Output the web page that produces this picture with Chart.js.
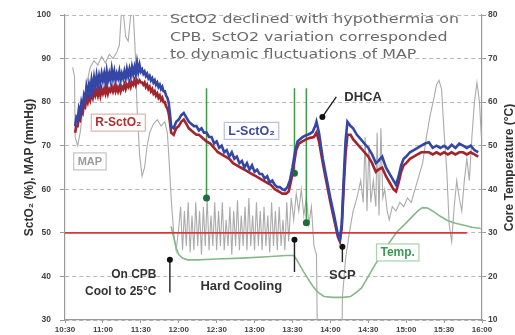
<!DOCTYPE html>
<html>
<head>
<meta charset="utf-8">
<script src="https://cdn.jsdelivr.net/npm/chart.js@4"></script>
<style>
html, body { margin: 0; padding: 0; background: #fff; }
canvas { display: block; }
</style>
</head>
<body>
<canvas id="chart" width="515" height="335"></canvas>
<script>
// time in minutes after 10:30, values in % / mmHg / degC
const timeTicks = ['10:30', '11:00', '11:30', '12:00', '12:30', '13:00', '13:30', '14:00', '14:30', '15:00', '15:30', '16:00'];

const lSctO2 = [
  [8,74.5],[9,76.5],[10,76],[11,78.5],[12,77.5],[13,80],[14,79],[15,81.5],[16,80.5],[17,83.5],[18,82],[19,84],
  [20,82.5],[21,85],[22,83],[23,85.5],[24,83.5],[25,86],[26,84],[27,86],[28,84.5],[29,86.5],[30,85],[31,86.5],
  [32,84.5],[33,87],[34,85],[35,86.5],[36,85],[37,87.5],[38,85.5],[39,87],[40,85],[41,86.5],[42,85.5],[43,87],
  [44,85],[45,86.5],[46,85.5],[47,87],[48,85.5],[49,87.5],[50,86],[51,87.5],[52,86],[53,88],[54,86.5],[55,88],
  [56,86.5],[57,89],[58,87],[59,88.5],[60,87],[61,87.5],[62,86.5],[63,87],[64,86],[65,86.5],[66,85.5],[67,86],
  [68,85],[69,85.5],[70,84.5],[71,85],[72,84],[73,84.5],[74,83.5],[75,84],[76,83],[77,83.5],[78,82.5],[79,82.5],
  [80,81.5],[81,81],[82,80],[83,77.5],[84,74.5],[86,74],[88,75.5],[90,76],[92,77],[94,77.5],[96,76.5],[98,75.5],
  [100,75],[102,74.5],[104,74.5],[106,73.5],[108,74],[110,73],[112,73],[114,72],[116,72],[118,70.5],[120,71],
  [122,69.5],[124,70],[126,68.5],[128,69],[130,67.5],[132,68.5],[134,67],[136,67.5],[138,66],[140,66.5],[142,65],
  [144,66],[146,64.5],[148,65.5],[150,64],[152,64.5],[154,63.5],[156,63.5],[158,62.5],[160,63],[162,61.5],[164,62],
  [166,61],[168,60.5],[170,60.5],[172,60],[174,59.8],[176,60.5],[178,62],[180,65],[182,68.5],[184,71],[186,71.5],
  [188,72],[190,72.3],[192,72.5],[194,72.8],[196,73.2],[198,74.5],[199,75.5],[201,73],[204,67],[207,62.5],[210,58],
  [213,54],[216,49.5],[217.5,48.5],[219,52],[220.5,62],[222,71],[223.5,75.5],[226,74.5],[228,74],[231,72.5],[234,71.5],
  [237,70.5],[240,69.5],[243,68],[246,66],[248,66.5],[251,67.5],[254,65],[257,63.5],[260,62],[262,61],[264,63],
  [266,65.5],[268,67],[270,67.5],[273,68.5],[276,69],[279,69.5],[282,70],[285,70.5],[288,70.8],[291,69.5],[294,70],
  [297,69.5],[300,70],[303,69.3],[306,70.2],[309,69.5],[312,70.5],[315,70],[318,69.5],[321,70],[324,69],[327,68.5]
];

const rSctO2 = [
  [8,73],[9,74.5],[10,74.5],[11,76.5],[12,76],[13,78],[14,77.5],[15,79.5],[16,79],[17,81],[18,80],[19,81.5],
  [20,80.5],[21,82],[22,81],[23,82.5],[24,81.5],[25,82.5],[26,81.5],[27,83],[28,81.5],[29,83],[30,82],[31,83],
  [32,82],[33,83.5],[34,82],[35,83],[36,82.5],[37,83.5],[38,82.5],[39,83.5],[40,82.5],[41,83.5],[42,82.5],[43,83.5],
  [44,82.5],[45,83.5],[46,83],[47,84],[48,83],[49,84],[50,83.5],[51,84.5],[52,83.5],[53,84.5],[54,84],[55,85],
  [56,84],[57,85],[58,84.5],[59,85],[60,84.5],[61,84.5],[62,84],[63,84.5],[64,83.5],[65,84],[66,83],[67,83.5],
  [68,82.5],[69,83],[70,82],[71,82.5],[72,81.5],[73,82],[74,81],[75,81.5],[76,80.5],[77,81],[78,80],[79,80],
  [80,79],[81,78.5],[82,77.5],[83,75.5],[84,73],[86,72.5],[88,74],[90,74.5],[92,75.5],[94,76],[96,75],[98,74],
  [100,73.5],[102,73],[104,72.5],[106,72.5],[108,72],[110,71.5],[112,71],[115,70.5],[118,69.5],[121,68.5],[124,68],
  [127,67.5],[130,67],[133,66],[136,65.5],[139,65],[142,64.5],[145,64],[148,63.5],[151,63],[154,62.5],[157,62],
  [160,61.5],[163,61],[166,60],[169,59.5],[172,59],[175,59],[177,59.5],[179,62],[181,65.5],[183,69],[185,70.5],
  [188,71],[191,71.5],[194,71.8],[197,72],[199,73],[201,71],[204,66],[207,61.5],[210,57],[213,53],[216,49],
  [217.5,48],[219,51],[220.5,60],[222,68],[223.5,72.5],[226,72.5],[228,71.5],[231,70.5],[234,69.5],[237,68.5],
  [240,67.5],[243,66],[246,64],[248,64.5],[251,65],[254,63],[257,61.5],[260,60],[262,59.5],[264,61.5],[266,64],
  [268,65.5],[270,66],[273,67],[276,67.5],[279,68],[282,68.5],[285,68.5],[288,68.5],[291,68],[294,68.5],[297,68],
  [300,68.5],[303,68],[306,68.5],[309,68],[312,68.5],[315,68.5],[318,68],[321,68.5],[324,68],[327,67.5]
];

const mapValues = [
  [6,88],[7.5,86],[8,72],[10,70],[12,73],[14,78],[17,84],[20,88],[23,89.5],[26,88.5],[29,90.5],[32,89],[35,91],
  [38,90],[41,91.5],[43,93],[44.5,100],[46,101],[48,95],[50,94],[52,100],[54,100.5],[55.5,92],[57,79],[59,68],
  [61,63],[63,65],[65,70],[67,73],[70,75],[73,76],[76,74.5],[79,75.5],[81,73],[82.5,66],[84,58],[86,50],[88,46],
  [90,51],[91.5,56],[93,46],[94.5,55],[96,47],[97.5,57],[99,45.5],[100.5,54],[102,46],[103.5,57],[105,47],
  [106.5,55],[108,45],[109.5,56],[111,47],[112.5,58],[114,46],[115.5,54],[117,47],[118.5,57],[120,46],[121.5,55],
  [123,47],[124.5,57],[126,46],[127.5,53],[129,47],[130.5,56],[132,45],[133.5,55],[135,47],[136.5,57.5],[138,46],
  [139.5,54],[141,47],[142.5,56],[144,46],[145.5,58],[147,47],[148.5,54],[150,46],[151.5,57],[153,47],[154.5,55],
  [156,46],[157.5,56],[159,47],[160.5,54],[162,45.5],[163.5,57],[165,47],[166.5,55],[168,46],[169.5,56],[171,47],
  [172.5,53],[174,46],[175.5,57],[177,48],[179,58],[181,53],[183,59],[185,55],[187,60],[189,54],[191,58],[193,52],
  [195,56],[197,47],[199,45],[200,20],[219,20],[219.5,35],[222,44],[225,50],[228,55],[231,58],[234,62],[236,57],
  [237.5,72],[239,55],[240.5,70],[242,57],[244,62],[246,56],[247,73],[248.5,54],[250,74],[251.5,58],[253,60],
  [255,55],[256.6,53],[259,56],[262,55],[265,57],[268,56],[271,58],[274,57],[277,60],[280,63],[283,66],[286,72],
  [289,77],[292,81],[294,84],[296,85],[298,83],[300,73],[302,65],[304,52],[306,48],[308,56],[310,62],[312,58],
  [314,55],[316,62],[318,67],[320,62],[322,72],[324,80],[326,84.5],[328,80],[329.5,72]
];

const coreTemp = [
  [84,31.5],[86,29],[88,26.5],[90,25],[93,24.2],[97,23.8],[105,23.8],[120,24],[140,24.2],[160,24.5],[175,24.8],
  [181,24.8],[183,24],[186,22.5],[189,21],[192,19.6],[196,17.8],[200,16.4],[205,15.4],[212,15.2],[220,15.2],
  [226,15.4],[230,16.2],[234.5,17.3],[238,19],[242,21],[246,23],[250,24.5],[256,27.5],[263,30.3],[269,32],
  [274,33.5],[279,35],[283,35.8],[287,35.7],[292,34.8],[297,33.8],[303,32.8],[309,32.2],[315,31.8],[322,31.3],[329,31]
];

// event markers (green) and black arrows
const eventTimes = [112, 181.6, 191];
const eventTop = 83.2;
const eventDots = [58, 63.7, 52.3];
const arrowTails = [[83, 36.3], [219.5, 43.3], [181.6, 41], [214.7, 81.2]];
const arrowHeads = [[83, 43.8], [219.5, 46.8], [181.6, 48.4], [203.7, 76.6]];
const thresholdLevel = 50;
const thresholdSpan = [0, 318];

function pts(arr) { return arr.map(p => ({ x: p[0], y: p[1] })); }

function fmtTime(v) {
  const i = Math.round(v / 30);
  return timeTicks[i] || '';
}

Chart.defaults.font.family = "'Liberation Sans', Arial, sans-serif";

const datasets = [
  { data: pts(lSctO2), borderColor: '#3446a6', borderWidth: 2.6, yAxisID: 'y' },
  { data: pts(rSctO2), borderColor: '#a3242b', borderWidth: 2.6, yAxisID: 'y' },
];
arrowTails.forEach((t, i) => {
  datasets.push({
    data: pts([t, arrowHeads[i]]), borderColor: '#222', borderWidth: 1.4, yAxisID: 'y',
    pointRadius: [0, 3], pointBackgroundColor: '#111', pointBorderWidth: 0
  });
});
eventTimes.forEach((t, i) => {
  datasets.push({
    data: pts([[t, eventTop], [t, eventDots[i]]]), borderColor: '#3f9b45', borderWidth: 1.5, yAxisID: 'y',
    pointRadius: [0, 3.5], pointBackgroundColor: '#1d6e3c', pointBorderWidth: 0
  });
});
datasets.push({ data: pts([[thresholdSpan[0], thresholdLevel], [thresholdSpan[1], thresholdLevel]]), borderColor: '#d8383c', borderWidth: 1.6, yAxisID: 'y' });
datasets.push({ data: pts(coreTemp), borderColor: '#86b88a', borderWidth: 1.6, yAxisID: 'y2' });
datasets.push({ data: pts(mapValues), borderColor: '#ababab', borderWidth: 1.1, yAxisID: 'y' });

const boxLabels = [
  { text: 'R-SctO₂', t: 42.2, v: 75.3, color: '#b0302e', edge: '#dcb4ac', size: 12 },
  { text: 'L-SctO₂', t: 147.6, v: 73.4, color: '#3b4ba5', edge: '#b9bfdc', size: 12.5 },
  { text: 'MAP', t: 19.7, v: 66.4, color: '#9a9a9a', edge: '#c4c4c4', size: 11 },
  { text: 'Temp.', t: 263.3, v: 45.5, color: '#3a9a55', edge: '#a9d3ab', size: 12 }
];
const notes = [
  { text: 'On CPB', t: 72.4, v: 40.3, align: 'right', size: 12 },
  { text: 'Cool to 25°C', t: 72.4, v: 36.5, align: 'right', size: 12 },
  { text: 'Hard Cooling', t: 139.5, v: 37.8, align: 'center', size: 13 },
  { text: 'SCP', t: 219.5, v: 40.3, align: 'center', size: 13 },
  { text: 'DHCA', t: 221, v: 81, align: 'left', size: 13 }
];
const summary = ['SctO2 declined with hypothermia on', 'CPB. SctO2 variation corresponded', 'to dynamic fluctuations of MAP'];

const notePlugin = {
  id: 'notes',
  afterDatasetsDraw(chart) {
    const { ctx, scales: { x, y } } = chart;
    ctx.save();
    ctx.textBaseline = 'middle';
    boxLabels.forEach(b => {
      ctx.font = 'bold ' + b.size + 'px "Liberation Sans", Arial, sans-serif';
      const w = ctx.measureText(b.text).width + 8;
      const h = 17;
      const cx = x.getPixelForValue(b.t), cy = y.getPixelForValue(b.v);
      ctx.fillStyle = '#fff';
      ctx.fillRect(cx - w / 2, cy - h / 2, w, h);
      ctx.strokeStyle = b.edge;
      ctx.lineWidth = 1.2;
      ctx.strokeRect(cx - w / 2, cy - h / 2, w, h);
      ctx.fillStyle = b.color;
      ctx.textAlign = 'center';
      ctx.fillText(b.text, cx, cy + 0.5);
    });
    notes.forEach(n => {
      ctx.font = 'bold ' + n.size + 'px "Liberation Sans", Arial, sans-serif';
      ctx.fillStyle = '#333';
      ctx.textAlign = n.align;
      ctx.fillText(n.text, x.getPixelForValue(n.t), y.getPixelForValue(n.v));
    });
    // summary note, stretched to span from 11:35 to about 15:42
    ctx.font = '12.5px "DejaVu Sans", sans-serif';
    ctx.fillStyle = '#6a6a6a';
    ctx.textAlign = 'left';
    const x0 = x.getPixelForValue(83);
    const stretch = (x.getPixelForValue(311.8) - x0) / ctx.measureText(summary[0]).width;
    summary.forEach((s, i) => {
      ctx.save();
      ctx.translate(x0, y.getPixelForValue(98.85) + i * 17.5);
      ctx.scale(stretch, 1);
      ctx.fillText(s, 0, 0);
      ctx.restore();
    });
    // axis titles
    const mid = (chart.chartArea.top + chart.chartArea.bottom) / 2;
    ctx.font = 'bold 12px "Liberation Sans", Arial, sans-serif';
    ctx.fillStyle = '#333';
    ctx.textAlign = 'center';
    ctx.translate(chart.chartArea.left - 35, mid);
    ctx.rotate(-Math.PI / 2);
    ctx.fillText('SctO₂ (%), MAP (mmHg)', 0, 0);
    ctx.setTransform(1, 0, 0, 1, 0, 0);
    ctx.translate(chart.width - 5, mid);
    ctx.rotate(-Math.PI / 2);
    ctx.fillText('Core Temperature (°C)', 0, 0);
    ctx.restore();
  }
};

const tickFont = { size: 8.5, weight: 'bold' };

new Chart(document.getElementById('chart'), {
  type: 'line',
  data: { datasets },
  options: {
    responsive: false,
    animation: false,
    devicePixelRatio: 1,
    layout: { padding: { top: 15, left: 0, right: 0, bottom: 0 } },
    plugins: { legend: { display: false }, tooltip: { enabled: false } },
    elements: { point: { radius: 0 }, line: { tension: 0 } },
    scales: {
      x: {
        type: 'linear', min: 0, max: 330,
        afterFit(s) { s.height = 15; },
        ticks: { stepSize: 30, callback: fmtTime, font: { size: 8, weight: 'bold' }, color: '#444', padding: 2, maxRotation: 0, autoSkip: false },
        grid: { drawOnChartArea: false, tickLength: 3, tickColor: '#999' },
        border: { color: '#999', width: 1.2 }
      },
      y: {
        position: 'left', min: 30, max: 100,
        afterFit(s) { s.width = 65; },
        ticks: { stepSize: 10, font: tickFont, color: '#444', padding: 9 },
        grid: { color: '#b8b8b8', lineWidth: 1, tickLength: 5, tickColor: '#999' },
        border: { color: '#999', width: 1.2, dash: [4, 3] }
      },
      y2: {
        position: 'right', min: 10, max: 80,
        afterFit(s) { s.width = 33; },
        ticks: { stepSize: 10, font: tickFont, color: '#444', padding: 2 },
        grid: { drawOnChartArea: false, tickLength: 4, tickColor: '#999' },
        border: { color: '#999', width: 1.2 }
      }
    }
  },
  plugins: [notePlugin]
});
</script>
</body>
</html>
